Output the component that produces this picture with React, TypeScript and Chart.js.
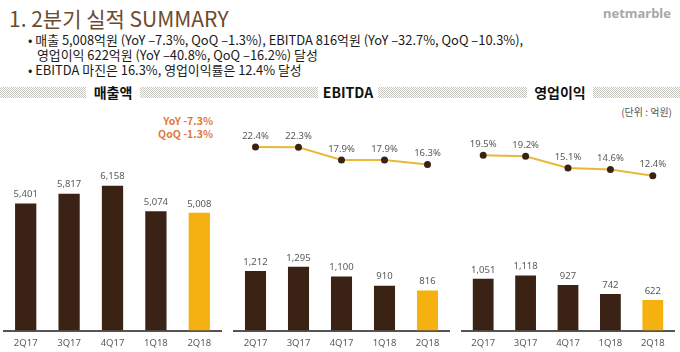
import React, { useEffect, useRef } from "react";
import { Chart, registerables } from "chart.js";

Chart.register(...registerables);

const quarters = ["2Q17", "3Q17", "4Q17", "1Q18", "2Q18"];
const revenue = [5401, 5817, 6158, 5074, 5008];
const ebitda = [1212, 1295, 1100, 910, 816];
const ebitdaMargin = [22.4, 22.3, 17.9, 17.9, 16.3];
const opIncome = [1051, 1118, 927, 742, 622];
const opMargin = [19.5, 19.2, 15.1, 14.6, 12.4];

const DARK = "#3a2314";
const GOLD = "#f4b10f";
const LINE = "#e9b936";
const LABEL = "#595959";
const FONT = "'Noto Sans CJK KR', 'Noto Sans', sans-serif";

const labelPlugin = {
  id: "valueLabels",
  afterDatasetsDraw(chart: any) {
    const ctx = chart.ctx;
    ctx.save();
    ctx.fillStyle = LABEL;
    ctx.font = "9.5px 'Noto Sans', sans-serif";
    ctx.textAlign = "center";
    ctx.textBaseline = "middle";
    chart.data.datasets.forEach((ds: any, i: number) => {
      const meta = chart.getDatasetMeta(i);
      meta.data.forEach((el: any, j: number) => {
        const v = ds.data[j];
        if (ds.type === "line") {
          ctx.fillText(v.toFixed(1) + "%", el.x, el.y - 11);
        } else {
          ctx.fillText(v.toLocaleString("en-US"), el.x, el.y - 9);
        }
      });
    });
    ctx.restore();
  },
};

function barColors(n: number) {
  return Array.from({ length: n }, (_, i) => (i === n - 1 ? GOLD : DARK));
}

type PanelProps = {
  left: number;
  width: number;
  bars: number[];
  barMax: number;
  line?: number[];
  padLeft: number;
  padRight: number;
};

const CANVAS_H = 258;

function Panel({ left, width, bars, barMax, line, padLeft, padRight }: PanelProps) {
  const ref = useRef<HTMLCanvasElement>(null);
  useEffect(() => {
    if (!ref.current) return;
    const datasets: any[] = [];
    if (line) {
      datasets.push({
        type: "line",
        data: line,
        yAxisID: "y1",
        borderColor: LINE,
        borderWidth: 2,
        pointRadius: 2.5,
        pointBackgroundColor: DARK,
        pointBorderColor: DARK,
        tension: 0,
        order: 0,
      });
    }
    datasets.push({
      type: "bar",
      data: bars,
      yAxisID: "y",
      backgroundColor: barColors(bars.length),
      barPercentage: 0.49,
      categoryPercentage: 1,
      order: 1,
    });
    const chart = new Chart(ref.current, {
      type: "bar",
      data: { labels: quarters, datasets },
      options: {
        animation: false,
        responsive: false,
        layout: { padding: { top: 0, bottom: 2, left: padLeft, right: padRight } },
        plugins: { legend: { display: false }, tooltip: { enabled: false } },
        scales: {
          x: {
            grid: { display: false, drawTicks: false },
            border: { display: true, color: "#555555", width: 2 },
            ticks: { color: LABEL, font: { size: 9.5, family: "'Noto Sans', sans-serif" }, padding: 7 },
          },
          y: { display: false, min: 0, max: barMax },
          y1: { display: false, min: -41.6, max: 36.7 },
        },
      },
      plugins: [labelPlugin],
    } as any);
    return () => chart.destroy();
  }, []);
  return (
    <canvas
      ref={ref}
      width={width}
      height={CANVAS_H}
      style={{ position: "absolute", left, top: 100, width, height: CANVAS_H }}
    />
  );
}

const bandStyle: React.CSSProperties = {
  position: "absolute",
  left: 0,
  top: 87,
  width: 680,
  height: 11,
  backgroundImage:
    "repeating-conic-gradient(#c8c8c0 0% 25%, #ffffff 0% 50%)",
  backgroundSize: "2px 2px",
};

function SectionTitle({ text, cx, w }: { text: string; cx: number; w: number }) {
  return (
    <div
      style={{
        position: "absolute",
        left: cx - w / 2,
        top: 83,
        width: w,
        height: 19,
        background: "#fff",
        textAlign: "center",
        fontFamily: FONT,
        fontWeight: 700,
        fontSize: 14,
        lineHeight: "19px",
        color: "#111",
      }}
    >
      {text}
    </div>
  );
}

export default function App() {
  return (
    <div
      style={{
        position: "fixed",
        left: 0,
        top: 0,
        width: 680,
        height: 352,
        background: "#fff",
        overflow: "hidden",
        fontFamily: FONT,
      }}
    >
      <div
        style={{
          position: "absolute",
          left: 9,
          top: 3,
          fontSize: 21,
          lineHeight: "30px",
          color: "#6b4b2e",
          whiteSpace: "nowrap",
        }}
      >
        1. 2분기 실적 SUMMARY
      </div>
      <div
        style={{
          position: "absolute",
          right: 9,
          top: 4,
          fontSize: 13,
          fontWeight: 700,
          fontFamily: "'Noto Sans', sans-serif",
          color: "#a8a8a8",
          lineHeight: "18px",
        }}
      >
        netmarble
      </div>
      <div
        style={{
          position: "absolute",
          left: 28,
          top: 32,
          fontSize: 12.9,
          lineHeight: "15px",
          color: "#1a1a1a",
          whiteSpace: "nowrap",
        }}
      >
        <div>• 매출 5,008억원 (YoY –7.3%, QoQ –1.3%), EBITDA 816억원 (YoY –32.7%, QoQ –10.3%),</div>
        <div style={{ paddingLeft: 9 }}>영업이익 622억원 (YoY –40.8%, QoQ –16.2%) 달성</div>
        <div>• EBITDA 마진은 16.3%, 영업이익률은 12.4% 달성</div>
      </div>
      <div style={bandStyle} />
      <SectionTitle text="매출액" cx={113} w={54} />
      <SectionTitle text="EBITDA" cx={348} w={60} />
      <SectionTitle text="영업이익" cx={560} w={66} />
      <div
        style={{
          position: "absolute",
          right: 8,
          top: 105,
          fontSize: 10,
          lineHeight: "14px",
          color: "#555",
        }}
      >
        (단위 : 억원)
      </div>
      <div
        style={{
          position: "absolute",
          right: 680 - 213,
          top: 114,
          fontSize: 10.5,
          fontWeight: 700,
          lineHeight: "13px",
          color: "#e07a3b",
          textAlign: "right",
        }}
      >
        <div>YoY -7.3%</div>
        <div>QoQ -1.3%</div>
      </div>
      <Panel left={0} width={228} bars={revenue} barMax={9805} padLeft={4} padRight={7} />
      <Panel left={228} width={227} bars={ebitda} barMax={4560} line={ebitdaMargin} padLeft={4} padRight={5} />
      <Panel left={455} width={225} bars={opIncome} barMax={4560} line={opMargin} padLeft={7} padRight={1} />
    </div>
  );
}
